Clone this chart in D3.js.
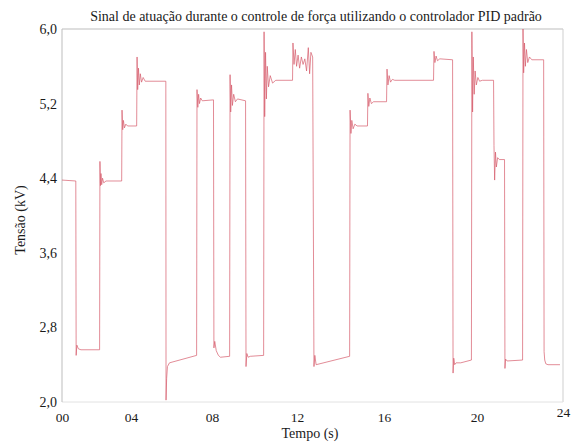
<!DOCTYPE html>
<html>
<head>
<meta charset="utf-8">
<script src="https://cdn.jsdelivr.net/npm/d3@7"></script>
<style>
  body { margin: 0; background: #fff; }
</style>
</head>
<body>
<div id="vis"></div>
<script>
// tick labels of the time axis (s) and the voltage axis (kV)
const tempoTicks = [0, 4, 8, 12, 16, 20, 24]
const tempoLabels = ['00', '04', '08', '12', '16', '20', '24']
const tensaoTicks = [2.0, 2.8, 3.6, 4.4, 5.2, 6.0]

// actuation signal: [tempo (s), tensão (kV)]
const sinal = [
  [0, 4.38], [0.80, 4.37],
  [0.82, 2.50], [0.86, 2.61], [0.95, 2.57], [1.10, 2.56], [2.18, 2.56],
  [2.20, 4.58], [2.23, 4.32], [2.26, 4.45], [2.30, 4.33], [2.35, 4.40], [2.42, 4.35], [2.55, 4.37], [3.46, 4.37],
  [3.48, 5.13], [3.52, 4.92], [3.56, 5.02], [3.62, 4.94], [3.70, 4.98], [3.80, 4.96], [4.28, 4.96],
  [4.30, 5.70], [4.33, 5.35], [4.37, 5.58], [4.41, 5.40], [4.46, 5.52], [4.52, 5.43], [4.60, 5.48], [4.70, 5.44], [5.72, 5.44],
  [5.73, 2.02], [5.76, 2.25], [5.80, 2.38], [5.90, 2.42], [7.24, 2.50],
  [7.26, 5.35], [7.30, 5.16], [7.34, 5.30], [7.38, 5.20], [7.44, 5.26], [7.52, 5.23], [8.07, 5.24],
  [8.09, 2.58], [8.13, 2.65], [8.20, 2.55], [8.30, 2.50], [8.40, 2.48], [8.83, 2.49],
  [8.85, 5.51], [8.88, 5.11], [8.92, 5.40], [8.96, 5.18], [9.02, 5.30], [9.10, 5.22], [9.20, 5.25], [9.58, 5.23],
  [9.60, 2.38], [9.64, 2.52], [9.70, 2.48], [9.80, 2.49], [10.43, 2.50],
  [10.45, 5.97], [10.48, 5.06], [10.52, 5.75], [10.56, 5.25], [10.60, 5.60], [10.66, 5.38], [10.74, 5.50], [10.85, 5.42], [11.00, 5.45], [11.79, 5.45],
  [11.81, 5.85], [11.86, 5.62], [11.92, 5.78], [11.98, 5.60], [12.05, 5.72], [12.12, 5.58], [12.20, 5.70], [12.28, 5.62],
  [12.36, 5.68], [12.44, 5.55], [12.52, 5.80], [12.58, 5.52], [12.64, 5.75], [12.72, 5.70],
  [12.78, 2.38], [12.82, 2.50], [12.88, 2.40], [14.42, 2.49],
  [14.44, 5.13], [14.48, 4.88], [14.52, 5.02], [14.58, 4.93], [14.66, 4.98], [14.76, 4.96], [15.24, 4.96],
  [15.26, 5.31], [15.30, 5.17], [15.35, 5.26], [15.42, 5.20], [15.52, 5.22], [16.11, 5.22],
  [16.13, 5.57], [16.17, 5.40], [16.22, 5.50], [16.28, 5.43], [16.36, 5.46], [16.46, 5.45], [18.13, 5.45],
  [18.15, 5.76], [18.19, 5.64], [18.24, 5.71], [18.30, 5.66], [18.40, 5.68], [18.95, 5.67],
  [18.97, 2.31], [19.00, 2.47], [19.04, 2.40], [19.10, 2.42], [19.30, 2.42], [19.76, 2.45],
  [19.78, 5.97], [19.81, 5.11], [19.84, 5.70], [19.88, 5.30], [19.92, 5.55], [19.97, 5.40], [20.04, 5.48], [20.12, 5.44], [20.25, 5.45], [20.77, 5.45],
  [20.79, 4.75], [20.82, 4.38], [20.86, 4.68], [20.90, 4.52], [20.96, 4.62], [21.04, 4.60], [21.28, 4.60],
  [21.30, 2.36], [21.33, 2.46], [21.40, 2.44], [22.12, 2.45],
  [22.14, 6.00], [22.17, 5.53], [22.21, 5.85], [22.25, 5.60], [22.30, 5.78], [22.36, 5.64], [22.44, 5.70], [22.55, 5.67], [23.10, 5.67],
  [23.12, 2.54], [23.15, 2.45], [23.20, 2.41], [23.30, 2.40], [23.86, 2.40]
]

const margin = { left: 62, top: 29, bottom: 42, right: 13 }
const width = 576 - margin.left - margin.right
const height = 444 - margin.top - margin.bottom
const serif = '"Liberation Serif", "Times New Roman", serif'

// the time labels of the original are not evenly spaced, so the scale is piecewise
const tickPx = [0, 69, 150, 235, 322, 415, width]

const xScale = d3.scaleLinear()
  .domain(tempoTicks)
  .range(tickPx)

const yScale = d3.scaleLinear()
  .domain([2, 6])
  .range([height, 0])

const svg = d3.select('#vis')
  .append('svg')
  .attr('width', 576)
  .attr('height', 444)

const g = svg.append('g')
  .attr('transform', `translate(${margin.left},${margin.top})`)

g.append('clipPath')
  .attr('id', 'clip')
  .append('rect')
  .attr('width', width)
  .attr('height', height)

// frame
g.append('line').attr('x1', 0).attr('x2', width).attr('y1', 0).attr('y2', 0).attr('stroke', '#bdbdbd')
g.append('line').attr('x1', width).attr('x2', width).attr('y1', 0).attr('y2', height).attr('stroke', '#cfcfcf')
g.append('line').attr('x1', 0).attr('x2', width).attr('y1', height).attr('y2', height).attr('stroke', '#e2e2e2')
g.append('line').attr('x1', 0).attr('x2', 0).attr('y1', 0).attr('y2', height).attr('stroke', '#bdbdbd')

// y axis
const yAxis = g.append('g')
  .call(d3.axisLeft(yScale)
    .tickValues(tensaoTicks)
    .tickSize(0)
    .tickPadding(5)
    .tickFormat(d => d.toFixed(1).replace('.', ',')))
yAxis.select('.domain').remove()
yAxis.selectAll('text').style('font-size', '14px')

// x axis
const xAxis = g.append('g')
  .attr('transform', `translate(0,${height})`)
  .call(d3.axisBottom(xScale)
    .tickValues(tempoTicks)
    .tickSize(0)
    .tickPadding(10)
    .tickFormat((d, i) => tempoLabels[i]))
xAxis.select('.domain').remove()
xAxis.selectAll('text')
  .style('font-size', '13.5px')
  .attr('dy', (d, i) => i === tempoTicks.length - 1 ? '0.4em' : '0.71em')

// signal
const line = d3.line()
  .x(d => xScale(d[0]))
  .y(d => yScale(d[1]))

g.append('path')
  .datum(sinal)
  .attr('clip-path', 'url(#clip)')
  .attr('fill', 'none')
  .attr('stroke', '#d65a6a')
  .attr('stroke-width', 0.7)
  .attr('d', line)

// titles
svg.append('text')
  .attr('x', 316)
  .attr('y', 21)
  .attr('text-anchor', 'middle')
  .style('font-size', '14px')
  .text('Sinal de atuação durante o controle de força utilizando o controlador PID padrão')

svg.append('text')
  .attr('x', 310)
  .attr('y', 438)
  .attr('text-anchor', 'middle')
  .style('font-size', '14px')
  .text('Tempo (s)')

svg.append('text')
  .attr('transform', 'translate(25,220) rotate(-90)')
  .attr('text-anchor', 'middle')
  .style('font-size', '14px')
  .text('Tensão (kV)')

// same serif face for every text
svg.selectAll('text')
  .style('font-family', serif)
  .style('fill', '#1a1a1a')
</script>
</body>
</html>
